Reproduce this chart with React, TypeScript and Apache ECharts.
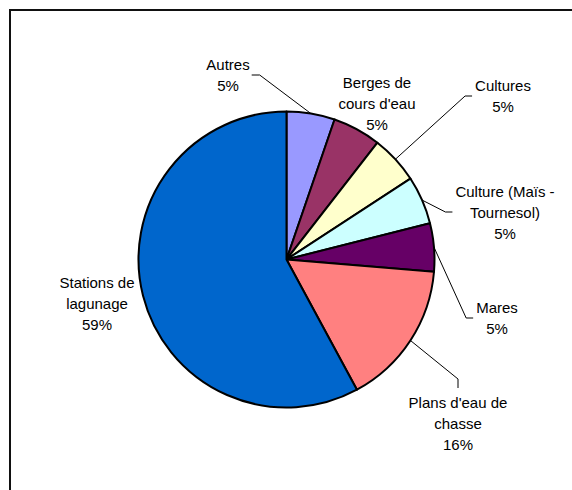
import React, { useEffect, useRef } from "react";
import * as echarts from "echarts";

// Categories (label text as displayed, with its line breaks)
const categories: string[] = [
  "Autres",
  "Berges de\ncours d'eau",
  "Cultures",
  "Culture (Maïs -\nTournesol)",
  "Mares",
  "Plans d'eau de\nchasse",
  "Stations de\nlagunage",
];

// Slice sizes (angles of the slices)
const siteCounts: number[] = [1, 1, 1, 1, 1, 3, 11];

// Percent labels as printed on the chart
const percentLabels: string[] = ["5%", "5%", "5%", "5%", "5%", "16%", "59%"];

const sliceColors: string[] = [
  "#9999FF",
  "#993366",
  "#FFFFCC",
  "#CCFFFF",
  "#660066",
  "#FF8080",
  "#0066CC",
];

// Label placement (layout only): centre of the label block and side of leader line
const labelPlacement: { x: number; y: number; side: string | null }[] = [
  { x: 228, y: 75, side: "right" },
  { x: 377, y: 103.5, side: null },
  { x: 503, y: 96, side: "left" },
  { x: 505, y: 212, side: "left" },
  { x: 497, y: 318, side: "left" },
  { x: 458, y: 423.5, side: "top" },
  { x: 97, y: 303.5, side: null },
];

const CX = 286.5;
const CY = 259.5;
const R = 148;

export default function App() {
  const ref = useRef<HTMLDivElement>(null);

  useEffect(() => {
    if (!ref.current) return;
    const chart = echarts.init(ref.current, undefined, { renderer: "svg" });
    const total = siteCounts.reduce((a, b) => a + b, 0);

    const data = categories.map((name, i) => ({
      name,
      value: siteCounts[i],
      itemStyle: { color: sliceColors[i] },
      labelLine: { show: labelPlacement[i].side !== null },
    }));

    chart.setOption({
      animation: false,
      backgroundColor: "#ffffff",
      graphic: [
        {
          type: "rect",
          z: -10,
          shape: { x: 10, y: 10, width: 700, height: 700 },
          style: { fill: "none", stroke: "#111111", lineWidth: 2 },
          silent: true,
        },
      ],
      series: [
        {
          type: "pie",
          center: [CX, CY],
          radius: [0, R],
          startAngle: 90,
          clockwise: true,
          percentPrecision: 0,
          avoidLabelOverlap: false,
          silent: true,
          itemStyle: { borderColor: "#000000", borderWidth: 2 },
          emphasis: { disabled: true },
          label: {
            show: true,
            position: "outside",
            formatter: (p: any) =>
              `${categories[p.dataIndex]}\n${percentLabels[p.dataIndex]}`,
            fontFamily: "'Liberation Sans', Arial, sans-serif",
            fontSize: 15,
            lineHeight: 21,
            color: "#000000",
            align: "center",
          },
          labelLine: {
            show: true,
            length: 10,
            length2: 10,
            lineStyle: { color: "#000000", width: 1 },
          },
          labelLayout: (params: any) => {
            const i = params.dataIndex;
            const pl = labelPlacement[i];
            const w = params.labelRect.width;
            const h = params.labelRect.height;
            const res: any = {
              x: pl.x,
              y: pl.y,
              align: "center",
              verticalAlign: "middle",
            };
            if (pl.side) {
              let start: number[];
              if (params.labelLinePoints && params.labelLinePoints[0]) {
                start = params.labelLinePoints[0];
              } else {
                let before = 0;
                for (let k = 0; k < i; k++) before += siteCounts[k];
                const mid = ((before + siteCounts[i] / 2) / total) * Math.PI * 2;
                start = [CX + R * Math.sin(mid), CY - R * Math.cos(mid)];
              }
              let end: number[];
              let bend: number[];
              if (pl.side === "right") {
                end = [pl.x + w / 2 + 2, pl.y];
                bend = [end[0] + 8, pl.y];
              } else if (pl.side === "left") {
                end = [pl.x - w / 2 - 3, pl.y];
                bend = [end[0] - 7, pl.y];
              } else {
                end = [pl.x, pl.y - h / 2 - 4];
                bend = [pl.x, end[1] - 9];
              }
              res.labelLinePoints = [start, bend, end];
            }
            return res;
          },
          data,
        },
      ],
    });

    return () => chart.dispose();
  }, []);

  return (
    <div
      ref={ref}
      style={{ position: "fixed", left: 0, top: 0, width: 572, height: 490 }}
    />
  );
}
